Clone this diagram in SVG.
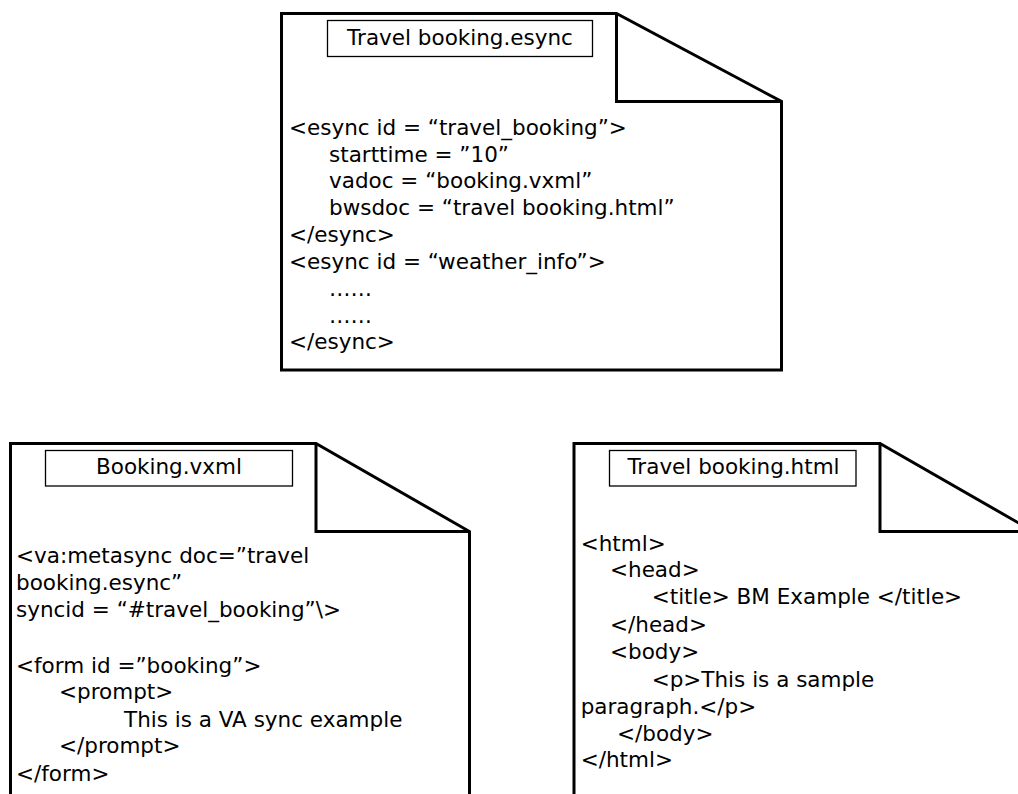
<svg xmlns="http://www.w3.org/2000/svg" width="1018" height="794" viewBox="0 0 1018 794">
  <style>
    .page { fill: #fff; stroke: #000; stroke-width: 3; stroke-linejoin: miter; }
    .fold { fill: none; stroke: #000; stroke-width: 3; }
    .label { fill: #fff; stroke: #000; stroke-width: 1.3; }
    text { font-family: "DejaVu Sans", "Liberation Sans", sans-serif; font-size: 21.5px; fill: #000; }
    .title { text-anchor: middle; }
  </style>
  <rect width="1018" height="794" fill="#fff"/>

  <!-- Sync description document -->
  <g id="esync-doc">
    <path class="page" d="M281.5,13.5 H616.5 L781.5,101.5 V370 H281.5 Z"/>
    <path class="fold" d="M616.5,13.5 V101.5 H781.5"/>
    <rect class="label" x="327.5" y="20.5" width="265" height="36"/>
    <text class="title" x="460" y="45">Travel booking.esync</text>
    <text x="289" y="135">&lt;esync id = “travel_booking”&gt;</text>
    <text x="329" y="161.7">starttime = ”10”</text>
    <text x="329" y="188.4">vadoc = “booking.vxml”</text>
    <text x="329" y="215.1">bwsdoc = “travel booking.html”</text>
    <text x="289" y="241.8">&lt;/esync&gt;</text>
    <text x="289" y="268.5">&lt;esync id = “weather_info”&gt;</text>
    <text x="329" y="296">……</text>
    <text x="329" y="322.5">……</text>
    <text x="289" y="348.5">&lt;/esync&gt;</text>
  </g>

  <!-- Voice application document -->
  <g id="vxml-doc">
    <path class="page" d="M10.5,800 V443.5 H316 L469.5,531.5 V800"/>
    <path class="fold" d="M316,443.5 V531.5 H469.5"/>
    <rect class="label" x="45.5" y="450.5" width="247" height="35.5"/>
    <text class="title" x="169" y="474">Booking.vxml</text>
    <text x="16" y="563.3">&lt;va:metasync doc=”travel</text>
    <text x="16" y="590">booking.esync”</text>
    <text x="16" y="616.7">syncid = “#travel_booking”\&gt;</text>
    <text x="16" y="672.5">&lt;form id =”booking”&gt;</text>
    <text x="59" y="699.3">&lt;prompt&gt;</text>
    <text x="124" y="726.5">This is a VA sync example</text>
    <text x="59" y="753.3">&lt;/prompt&gt;</text>
    <text x="16" y="781">&lt;/form&gt;</text>
  </g>

  <!-- Browser document -->
  <g id="html-doc">
    <path class="page" d="M574,800 V443.5 H880 L1033.5,531.5 V800"/>
    <path class="fold" d="M880,443.5 V531.5 H1033.5"/>
    <rect class="label" x="609.5" y="450.5" width="246.5" height="35.5"/>
    <text class="title" x="733.5" y="474">Travel booking.html</text>
    <text x="580.7" y="550.7">&lt;html&gt;</text>
    <text x="610" y="577.3">&lt;head&gt;</text>
    <text x="651.7" y="604">&lt;title&gt; BM Example &lt;/title&gt;</text>
    <text x="610" y="632">&lt;/head&gt;</text>
    <text x="610" y="659.3">&lt;body&gt;</text>
    <text x="651.7" y="686.7">&lt;p&gt;This is a sample</text>
    <text x="580.7" y="714">paragraph.&lt;/p&gt;</text>
    <text x="617" y="741">&lt;/body&gt;</text>
    <text x="580.7" y="767">&lt;/html&gt;</text>
  </g>
</svg>
